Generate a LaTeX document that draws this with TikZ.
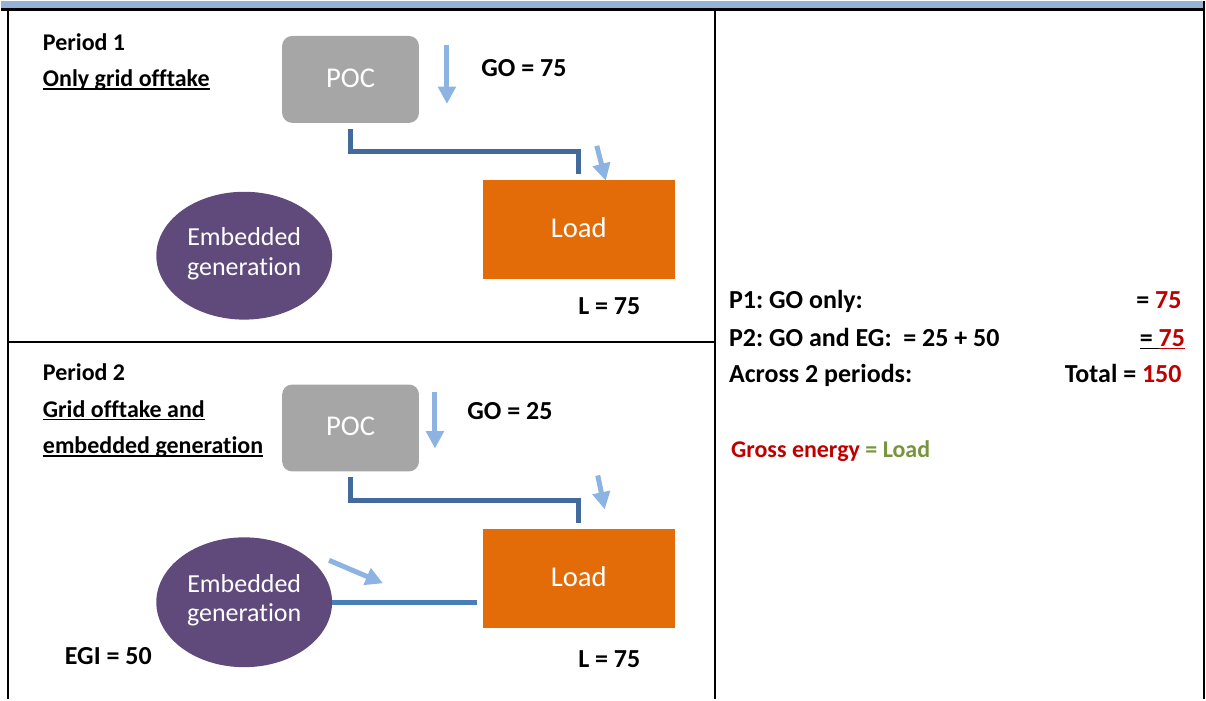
\documentclass[tikz,border=0pt]{standalone}
\usepackage{fontspec}
\setmainfont{Carlito}[Ligatures=NoCommon]
\usetikzlibrary{shapes.geometric,arrows.meta}

\tikzset{every picture/.style={line width=0.75pt}}
\frenchspacing
\newsavebox{\ulinebox}
\newcommand{\wordul}[1]{\sbox{\ulinebox}{#1}\rlap{\rule[-2.4pt]{\wd\ulinebox}{1.3pt}}\usebox{\ulinebox}}
\newcommand{\lblfont}{\fontsize{19.5}{23}\selectfont\bfseries}
\newcommand{\perfont}{\fontsize{18}{22}\selectfont\bfseries}

\begin{document}
\begin{tikzpicture}[x=0.75pt,y=0.75pt,yscale=-1,xscale=1,
	pocbox/.style={fill={rgb, 255:red, 166; green, 166; blue, 166 }, rounded corners=7.5pt, minimum width=102.75pt, minimum height=65.25pt, inner sep=0pt, outer sep=0pt, text=white, text height=12pt, text depth=0pt, font=\fontsize{21.5}{26}\selectfont},
	loadbox/.style={fill={rgb, 255:red, 227; green, 108; blue, 9 }, minimum width=144pt, minimum height=74.25pt, inner sep=0pt, outer sep=0pt, text=white, text height=12pt, text depth=0pt, font=\fontsize{21.5}{26}\selectfont},
	egblob/.style={ellipse, fill={rgb, 255:red, 96; green, 74; blue, 123 }, minimum width=132pt, minimum height=96pt, inner sep=0pt, outer sep=0pt},
	egtext/.style={inner sep=0pt, text=white, align=center, font=\fontsize{19.5}{22}\selectfont},
	lbl/.style={anchor=base west, inner sep=0pt, font=\lblfont},
	lblr/.style={anchor=base east, inner sep=0pt, font=\lblfont},
	pertext/.style={anchor=base west, inner sep=0pt, font=\perfont},
	gridline/.style={color={rgb, 255:red, 66; green, 106; blue, 157 }, line width=3.75pt, line join=miter, shorten <=4.5pt, shorten >=4.5pt},
	egline/.style={color={rgb, 255:red, 74; green, 126; blue, 187 }, line width=3.75pt, shorten >=4.5pt},
	flow/.style={color={rgb, 255:red, 141; green, 179; blue, 226 }, line width=3.75pt, -{Triangle[width=13pt,length=13pt]}},
	rule/.style={line width=1.5pt}
	]
	%set diagram to 1206 x 699
	\path (0,0) rectangle (1206,699);
	
	%Shape: Table frame
	\fill [color={rgb, 255:red, 149; green, 179; blue, 215 }] (0,0) rectangle (1204,8);
	\draw [line width=2.25pt] (0,9) -- (1204,9);
	\draw [rule] (7,9) -- (7,699);
	\draw [rule] (1203.5,0) -- (1203.5,699);
	\draw [rule] (714,9) -- (714,699);
	\draw [rule] (7,341) -- (714,341);
	
	%%% Period 1
	% Text Node
	\node [pertext] (per1) at (41,49.5) {Period 1};
	\node [pertext] (per1b) at (41,86) {\wordul{Only grid offtake}};
	%Shape: POC
	\node [pocbox] (poc1) at (349.5,78.5) {POC};
	%Shape: Load
	\node [loadbox] (load1) at (578,228.5) {Load};
	%Shape: Embedded generation
	\node [egblob] (eg1) at (243,255) {};
	\node [egtext] (eg1t) at ([yshift=-1.5pt]eg1.center) {Embedded\\generation};
	% Text Node
	\node [lbl] (go1) at (480,75.7) {GO = 75};
	\node [lbl] (l1) at (577,314) {L = 75};
	%Straight Lines
	\draw [gridline] (poc1.south) -- ++(0,29) -| (load1.north);
	%Arrows
	\coordinate (go1a) at (446,44);
	\coordinate (go1b) at (446,103);
	\coordinate (in1a) at (596,145);
	\coordinate (in1b) at (605,180);
	\draw [flow] (go1a) -- (go1b);
	\draw [flow] (in1a) -- (in1b);
	
	%%% Period 2
	% Text Node
	\node [pertext] (per2) at (41,380) {Period 2};
	\node [pertext] (per2b) at (41,416.7) {\wordul{Grid offtake and}};
	\node [pertext] (per2c) at (41,453) {\wordul{embedded generation}};
	%Shape: POC
	\node [pocbox] (poc2) at (349.5,427.5) {POC};
	%Shape: Load
	\node [loadbox] (load2) at (578,578) {Load};
	%Shape: Embedded generation
	\node [egblob, minimum height=97.5pt] (eg2) at (243,602) {};
	\node [egtext] (eg2t) at ([yshift=-1.5pt]eg2.center) {Embedded\\generation};
	% Text Node
	\node [lbl] (go2) at (466,418.7) {GO = 25};
	\node [lbl] (l2) at (577,667) {L = 75};
	\node [lbl] (egi) at (63,664.3) {EGI = 50};
	%Straight Lines
	\draw [gridline] (poc2.south) -- ++(0,29) -| (load2.north);
	\draw [egline] (eg2.east) -- (eg2.east -| load2.west);
	%Arrows
	\coordinate (go2a) at (434,391);
	\coordinate (go2b) at (434,448);
	\coordinate (in2a) at (597,475);
	\coordinate (in2b) at (604,509);
	\coordinate (ega) at (328,560);
	\coordinate (egb) at (382,583);
	\draw [flow] (go2a) -- (go2b);
	\draw [flow] (in2a) -- (in2b);
	\draw [flow] (ega) -- (egb);
	
	%%% Summary
	% Text Node
	\node [lbl] (p1) at (728,308) {P1: GO only:};
	\node [lblr] (p1v) at (1182,308) {= \textcolor[rgb]{0.75,0,0}{75}};
	\node [lbl] (p2) at (728,345.7) {P2: GO and EG:\ \ = 25 + 50};
	\node [lblr] (p2v) at (1185.5,345.7) {\wordul{= }{\color[rgb]{0.75,0,0}\wordul{75}}};
	\node [lbl] (acr) at (728,382.3) {Across 2 periods:};
	\node [lblr] (tot) at (1182,382.3) {Total = \textcolor[rgb]{0.75,0,0}{150}};
	\node [anchor=base west, inner sep=0pt, font=\fontsize{18}{22}\selectfont\bfseries] (gross) at (730,457) {\textcolor[rgb]{0.75,0,0}{Gross energy} \textcolor[rgb]{0.47,0.58,0.24}{= Load}};
	
\end{tikzpicture}
\end{document}
